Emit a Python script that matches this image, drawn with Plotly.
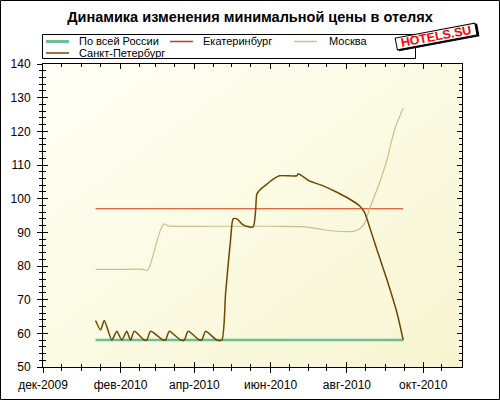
import base64
import plotly.graph_objects as go

# ---------------- data ----------------
series_names = ["По всей России", "Екатеринбург", "Москва", "Санкт-Петербург"]
series_colors = ["#6fbd92", "#cc3a10", "#cdbf8a", "#6e4800"]

russia_dates = ["2010-01-12", "2010-09-15"]
russia_values = [58, 58]

ekb_dates = ["2010-01-12", "2010-09-15"]
ekb_values = [97, 97]

msk_dates = ["2010-01-12", "2010-02-01", "2010-02-19", "2010-02-22", "2010-02-24",
             "2010-03-05", "2010-03-08", "2010-03-11", "2010-04-15", "2010-06-01",
             "2010-06-27", "2010-07-08", "2010-07-21", "2010-08-06", "2010-08-11",
             "2010-08-15", "2010-08-19", "2010-08-26", "2010-09-02", "2010-09-08",
             "2010-09-15"]
msk_values = [79, 79, 79, 78.6, 79.6, 90.8, 92.5, 91.9, 91.8, 91.8,
              91.7, 91.1, 90.4, 90.3, 91.0, 92.6, 96.9, 103.6, 111.5, 120.4,
              126.9]

spb_dates = ["2010-01-12", "2010-01-16", "2010-01-19", "2010-01-25", "2010-01-29",
             "2010-02-02", "2010-02-06", "2010-02-09", "2010-02-12", "2010-02-20",
             "2010-02-22", "2010-02-25", "2010-03-07", "2010-03-09", "2010-03-12",
             "2010-03-21", "2010-03-24", "2010-03-27", "2010-04-05", "2010-04-07",
             "2010-04-10", "2010-04-19", "2010-04-23", "2010-04-26", "2010-04-30",
             "2010-05-02", "2010-05-05", "2010-05-09", "2010-05-12", "2010-05-18",
             "2010-05-20", "2010-05-21", "2010-05-24", "2010-05-29", "2010-06-03",
             "2010-06-08", "2010-06-22", "2010-06-23", "2010-07-02", "2010-07-13",
             "2010-07-24", "2010-08-03", "2010-08-11", "2010-08-15", "2010-08-17",
             "2010-08-25", "2010-09-02", "2010-09-10", "2010-09-15"]
spb_values = [63.8, 61, 63.8, 58, 60.6, 58, 60.6, 58, 60.6, 58,
              58, 60.6, 58, 58, 60.6, 58, 58, 60.6, 58, 58,
              60.6, 58, 58, 72, 88, 94, 94, 92.5, 91.9, 91.6,
              96.5, 101.4, 102.8, 104.3, 105.8, 106.8, 106.8, 107.4, 105.3, 103.8,
              101.9, 99.9, 97.9, 96, 94, 84.8, 75.9, 66.1, 58]

x_tickvals = ["2009-12-01", "2010-02-01", "2010-04-01", "2010-06-01", "2010-08-01", "2010-10-01"]
x_ticktext = ["дек-2009", "фев-2010", "апр-2010", "июн-2010", "авг-2010", "окт-2010"]
x_range = ["2009-12-01", "2010-11-01"]
y_range = [50, 140]
y_tickvals = list(range(50, 141, 10))

title_text = "Динамика изменения минимальной цены в отелях"
watermark_text = "HOTELS.SU"

# minor x ticks: 1st of intermediate months and 16th of every month
months = [(2009, 12)] + [(2010, m) for m in range(1, 11)]
minor_x = []
for i, (yy, mm) in enumerate(months):
    if i % 2 == 1:
        minor_x.append(f"{yy}-{mm:02d}-01")
    minor_x.append(f"{yy}-{mm:02d}-16")

# ---------------- layout geometry ----------------
W, H = 500, 400
L, R, T, B = 43, 38, 64, 33
PW, PH = W - L - R, H - T - B


def px(x):
    return (x - L) / PW


def py(y):
    return (H - B - y) / PH


FONT = "Liberation Sans, Arial, sans-serif"

fig = go.Figure()

series = [
    (russia_dates, russia_values, 2.6, "linear"),
    (ekb_dates, ekb_values, 1.2, "linear"),
    (msk_dates, msk_values, 1.2, "spline"),
    (spb_dates, spb_values, 1.5, "spline"),
]
for (xs, ys, w, shape), name, col in zip(series, series_names, series_colors):
    line = dict(color=col, width=w, shape=shape)
    if shape == "spline":
        line["smoothing"] = 0.6
    fig.add_trace(go.Scatter(x=xs, y=ys, mode="lines", name=name, line=line,
                             showlegend=False, hoverinfo="skip"))

# empty trace for overlay axes (inner ticks)
fig.add_trace(go.Scatter(x=[], y=[], xaxis="x2", yaxis="y2", showlegend=False,
                         hoverinfo="skip"))

# plot area gradient
svg = ("<svg xmlns='http://www.w3.org/2000/svg' width='100' height='100' preserveAspectRatio='none'>"
       "<defs><linearGradient id='g' x1='0' y1='0' x2='1' y2='1'>"
       "<stop offset='0' stop-color='#fffff6'/><stop offset='1' stop-color='#f7f5d0'/>"
       "</linearGradient></defs><rect width='100' height='100' fill='url(#g)'/></svg>")
src = "data:image/svg+xml;base64," + base64.b64encode(svg.encode()).decode()

axis_font = dict(family=FONT, size=12, color="black")

fig.update_layout(
    width=W, height=H,
    margin=dict(l=L, r=R, t=T, b=B, pad=0, autoexpand=False),
    paper_bgcolor="white",
    plot_bgcolor="rgba(0,0,0,0)",
    showlegend=False,
    hovermode=False,
    title=dict(text=title_text, x=0.5, xanchor="center", y=1 - 17 / H, yanchor="middle",
               xref="container", yref="container", automargin=False,
               font=dict(family=FONT, size=14.5, color="black", weight="bold")),
    images=[dict(source=src, xref="paper", yref="paper", x=0, y=1, sizex=1, sizey=1,
                 sizing="stretch", layer="below", xanchor="left", yanchor="top")],
    xaxis=dict(type="date", range=x_range, tickmode="array", tickvals=x_tickvals,
               ticktext=x_ticktext, ticks="outside", ticklen=5, tickwidth=1, tickcolor="black",
               showline=True, linecolor="black", linewidth=1, showgrid=False, zeroline=False,
               tickfont=axis_font, ticklabelstandoff=2, automargin=False,
               minor=dict(tickmode="array", tickvals=minor_x, ticks="outside", ticklen=3,
                          tickwidth=1, tickcolor="black", showgrid=False)),
    yaxis=dict(range=y_range, tickmode="array", tickvals=y_tickvals, ticks="outside",
               ticklen=5, tickwidth=1, tickcolor="black", showline=True, linecolor="black",
               linewidth=1, showgrid=False, zeroline=False, tickfont=axis_font,
               ticklabelstandoff=4, automargin=False,
               minor=dict(dtick=2, ticks="outside", ticklen=3, tickwidth=1,
                          tickcolor="black", showgrid=False)),
    xaxis2=dict(type="date", range=x_range, overlaying="x", anchor="y2", tickmode="array",
                tickvals=x_tickvals, ticks="inside", ticklen=5, tickwidth=1, tickcolor="black",
                showline=True, mirror="ticks", linecolor="black", showticklabels=False,
                showgrid=False, zeroline=False, automargin=False,
                minor=dict(tickmode="array", tickvals=minor_x, ticks="inside", ticklen=3,
                           tickwidth=1, tickcolor="black", showgrid=False)),
    yaxis2=dict(range=y_range, overlaying="y", anchor="x2", tickmode="array",
                tickvals=y_tickvals, ticks="inside", ticklen=5, tickwidth=1, tickcolor="black",
                showline=True, mirror="ticks", linecolor="black", showticklabels=False,
                showgrid=False, zeroline=False, automargin=False,
                minor=dict(dtick=2, ticks="inside", ticklen=3, tickwidth=1,
                           tickcolor="black", showgrid=False)),
)

shapes = []
annotations = []

# outer frame
shapes.append(dict(type="rect", xref="paper", yref="paper",
                   x0=px(0.5), x1=px(W - 0.5), y0=py(H - 0.5), y1=py(0.5),
                   line=dict(color="black", width=1), fillcolor="rgba(0,0,0,0)", layer="above"))

# manual legend
shapes.append(dict(type="rect", xref="paper", yref="paper",
                   x0=px(42.5), x1=px(415.5), y0=py(58.5), y1=py(34.5),
                   line=dict(color="black", width=1), fillcolor="white", layer="above"))
leg_pos = [(46, 77, 41.5), (170, 201, 41.5), (294, 327, 41.5), (46, 77, 53)]
leg_w = [3, 1.5, 1.5, 1.5]
for (lx, tx, ly), name, col, lw in zip(leg_pos, series_names, series_colors, leg_w):
    shapes.append(dict(type="line", xref="paper", yref="paper", x0=px(lx), x1=px(lx + 23),
                       y0=py(ly), y1=py(ly), line=dict(color=col, width=lw), layer="above"))
    annotations.append(dict(text=name, xref="paper", yref="paper", x=px(tx), y=py(ly),
                            xanchor="left", yanchor="middle", showarrow=False,
                            font=dict(family=FONT, size=11, color="black")))

# watermark with shadow
wx, wy = px(436), py(36)
for shadow in (True, False):
    annotations.append(dict(text=watermark_text, xref="paper", yref="paper", x=wx, y=wy,
                            xshift=1.5 if shadow else 0, yshift=-1.5 if shadow else 0,
                            xanchor="center", yanchor="middle",
                            showarrow=False, textangle=-10.6, width=80, height=11, borderpad=0,
                            bgcolor="black" if shadow else "white", bordercolor="black",
                            borderwidth=1,
                            font=dict(family=FONT, size=12.5,
                                      color="black" if shadow else "#ff0000", weight="bold")))

fig.update_layout(shapes=shapes, annotations=annotations)

fig.write_html("out.html", config={"displayModeBar": False, "staticPlot": True},
               post_script="document.body.style.margin='0';document.body.style.overflow='hidden';")
